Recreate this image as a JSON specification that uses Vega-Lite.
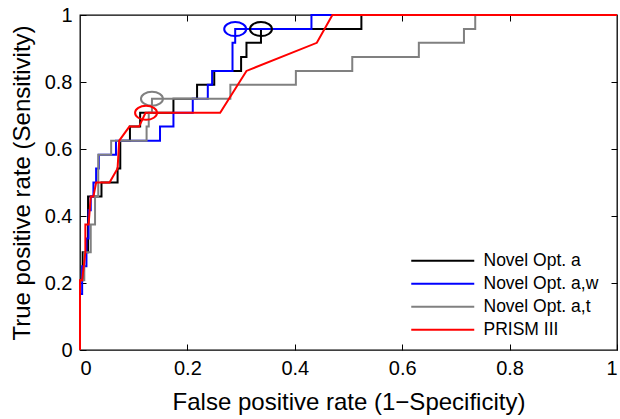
{
  "$schema": "https://vega.github.io/schema/vega-lite/v6.json",
  "width": 537,
  "height": 335,
  "autosize": {"type": "none"},
  "padding": {"left": 80, "top": 15, "right": 3, "bottom": 69},
  "background": "white",
  "config": {
    "font": "Liberation Sans",
    "view": {"stroke": "black", "strokeWidth": 1.3},
    "axis": {
      "domain": false,
      "grid": false,
      "tickColor": "black",
      "tickWidth": 1,
      "tickSize": -6,
      "labelColor": "black",
      "labelFontSize": 20,
      "labelFont": "Liberation Sans",
      "titleFont": "Liberation Sans",
      "titleFontSize": 24,
      "titleFontWeight": "normal",
      "titleColor": "black"
    }
  },
  "datasets": {
    "roc": [
      {"model": "Novel Opt. a", "i": 0, "fpr": 0, "tpr": 0},
      {"model": "Novel Opt. a", "i": 1, "fpr": 0, "tpr": 0.208},
      {"model": "Novel Opt. a", "i": 2, "fpr": 0.005, "tpr": 0.208},
      {"model": "Novel Opt. a", "i": 3, "fpr": 0.005, "tpr": 0.292},
      {"model": "Novel Opt. a", "i": 4, "fpr": 0.015, "tpr": 0.292},
      {"model": "Novel Opt. a", "i": 5, "fpr": 0.015, "tpr": 0.458},
      {"model": "Novel Opt. a", "i": 6, "fpr": 0.04, "tpr": 0.458},
      {"model": "Novel Opt. a", "i": 7, "fpr": 0.04, "tpr": 0.5},
      {"model": "Novel Opt. a", "i": 8, "fpr": 0.07, "tpr": 0.5},
      {"model": "Novel Opt. a", "i": 9, "fpr": 0.07, "tpr": 0.542},
      {"model": "Novel Opt. a", "i": 10, "fpr": 0.075, "tpr": 0.542},
      {"model": "Novel Opt. a", "i": 11, "fpr": 0.075, "tpr": 0.625},
      {"model": "Novel Opt. a", "i": 12, "fpr": 0.093, "tpr": 0.625},
      {"model": "Novel Opt. a", "i": 13, "fpr": 0.093, "tpr": 0.667},
      {"model": "Novel Opt. a", "i": 14, "fpr": 0.112, "tpr": 0.667},
      {"model": "Novel Opt. a", "i": 15, "fpr": 0.112, "tpr": 0.708},
      {"model": "Novel Opt. a", "i": 16, "fpr": 0.174, "tpr": 0.708},
      {"model": "Novel Opt. a", "i": 17, "fpr": 0.174, "tpr": 0.75},
      {"model": "Novel Opt. a", "i": 18, "fpr": 0.218, "tpr": 0.75},
      {"model": "Novel Opt. a", "i": 19, "fpr": 0.218, "tpr": 0.792},
      {"model": "Novel Opt. a", "i": 20, "fpr": 0.25, "tpr": 0.792},
      {"model": "Novel Opt. a", "i": 21, "fpr": 0.25, "tpr": 0.833},
      {"model": "Novel Opt. a", "i": 22, "fpr": 0.3, "tpr": 0.833},
      {"model": "Novel Opt. a", "i": 23, "fpr": 0.3, "tpr": 0.875},
      {"model": "Novel Opt. a", "i": 24, "fpr": 0.31, "tpr": 0.875},
      {"model": "Novel Opt. a", "i": 25, "fpr": 0.31, "tpr": 0.917},
      {"model": "Novel Opt. a", "i": 26, "fpr": 0.337, "tpr": 0.917},
      {"model": "Novel Opt. a", "i": 27, "fpr": 0.337, "tpr": 0.958},
      {"model": "Novel Opt. a", "i": 28, "fpr": 0.524, "tpr": 0.958},
      {"model": "Novel Opt. a", "i": 29, "fpr": 0.524, "tpr": 1},
      {"model": "Novel Opt. a", "i": 30, "fpr": 1, "tpr": 1},

      {"model": "Novel Opt. a,w", "i": 0, "fpr": 0, "tpr": 0},
      {"model": "Novel Opt. a,w", "i": 1, "fpr": 0, "tpr": 0.167},
      {"model": "Novel Opt. a,w", "i": 2, "fpr": 0.004, "tpr": 0.167},
      {"model": "Novel Opt. a,w", "i": 3, "fpr": 0.004, "tpr": 0.25},
      {"model": "Novel Opt. a,w", "i": 4, "fpr": 0.012, "tpr": 0.25},
      {"model": "Novel Opt. a,w", "i": 5, "fpr": 0.012, "tpr": 0.333},
      {"model": "Novel Opt. a,w", "i": 6, "fpr": 0.016, "tpr": 0.333},
      {"model": "Novel Opt. a,w", "i": 7, "fpr": 0.016, "tpr": 0.417},
      {"model": "Novel Opt. a,w", "i": 8, "fpr": 0.02, "tpr": 0.417},
      {"model": "Novel Opt. a,w", "i": 9, "fpr": 0.02, "tpr": 0.458},
      {"model": "Novel Opt. a,w", "i": 10, "fpr": 0.025, "tpr": 0.458},
      {"model": "Novel Opt. a,w", "i": 11, "fpr": 0.025, "tpr": 0.5},
      {"model": "Novel Opt. a,w", "i": 12, "fpr": 0.03, "tpr": 0.5},
      {"model": "Novel Opt. a,w", "i": 13, "fpr": 0.03, "tpr": 0.542},
      {"model": "Novel Opt. a,w", "i": 14, "fpr": 0.035, "tpr": 0.542},
      {"model": "Novel Opt. a,w", "i": 15, "fpr": 0.035, "tpr": 0.583},
      {"model": "Novel Opt. a,w", "i": 16, "fpr": 0.067, "tpr": 0.583},
      {"model": "Novel Opt. a,w", "i": 17, "fpr": 0.067, "tpr": 0.625},
      {"model": "Novel Opt. a,w", "i": 18, "fpr": 0.149, "tpr": 0.625},
      {"model": "Novel Opt. a,w", "i": 19, "fpr": 0.149, "tpr": 0.667},
      {"model": "Novel Opt. a,w", "i": 20, "fpr": 0.174, "tpr": 0.667},
      {"model": "Novel Opt. a,w", "i": 21, "fpr": 0.174, "tpr": 0.708},
      {"model": "Novel Opt. a,w", "i": 22, "fpr": 0.21, "tpr": 0.708},
      {"model": "Novel Opt. a,w", "i": 23, "fpr": 0.21, "tpr": 0.75},
      {"model": "Novel Opt. a,w", "i": 24, "fpr": 0.238, "tpr": 0.75},
      {"model": "Novel Opt. a,w", "i": 25, "fpr": 0.238, "tpr": 0.792},
      {"model": "Novel Opt. a,w", "i": 26, "fpr": 0.246, "tpr": 0.792},
      {"model": "Novel Opt. a,w", "i": 27, "fpr": 0.246, "tpr": 0.833},
      {"model": "Novel Opt. a,w", "i": 28, "fpr": 0.284, "tpr": 0.833},
      {"model": "Novel Opt. a,w", "i": 29, "fpr": 0.284, "tpr": 0.917},
      {"model": "Novel Opt. a,w", "i": 30, "fpr": 0.289, "tpr": 0.917},
      {"model": "Novel Opt. a,w", "i": 31, "fpr": 0.289, "tpr": 0.958},
      {"model": "Novel Opt. a,w", "i": 32, "fpr": 0.431, "tpr": 0.958},
      {"model": "Novel Opt. a,w", "i": 33, "fpr": 0.431, "tpr": 1},
      {"model": "Novel Opt. a,w", "i": 34, "fpr": 1, "tpr": 1},

      {"model": "Novel Opt. a,t", "i": 0, "fpr": 0, "tpr": 0},
      {"model": "Novel Opt. a,t", "i": 1, "fpr": 0, "tpr": 0.208},
      {"model": "Novel Opt. a,t", "i": 2, "fpr": 0.008, "tpr": 0.208},
      {"model": "Novel Opt. a,t", "i": 3, "fpr": 0.008, "tpr": 0.292},
      {"model": "Novel Opt. a,t", "i": 4, "fpr": 0.02, "tpr": 0.292},
      {"model": "Novel Opt. a,t", "i": 5, "fpr": 0.02, "tpr": 0.375},
      {"model": "Novel Opt. a,t", "i": 6, "fpr": 0.028, "tpr": 0.375},
      {"model": "Novel Opt. a,t", "i": 7, "fpr": 0.028, "tpr": 0.458},
      {"model": "Novel Opt. a,t", "i": 8, "fpr": 0.034, "tpr": 0.458},
      {"model": "Novel Opt. a,t", "i": 9, "fpr": 0.034, "tpr": 0.583},
      {"model": "Novel Opt. a,t", "i": 10, "fpr": 0.058, "tpr": 0.583},
      {"model": "Novel Opt. a,t", "i": 11, "fpr": 0.058, "tpr": 0.625},
      {"model": "Novel Opt. a,t", "i": 12, "fpr": 0.124, "tpr": 0.625},
      {"model": "Novel Opt. a,t", "i": 13, "fpr": 0.124, "tpr": 0.667},
      {"model": "Novel Opt. a,t", "i": 14, "fpr": 0.128, "tpr": 0.667},
      {"model": "Novel Opt. a,t", "i": 15, "fpr": 0.128, "tpr": 0.708},
      {"model": "Novel Opt. a,t", "i": 16, "fpr": 0.134, "tpr": 0.708},
      {"model": "Novel Opt. a,t", "i": 17, "fpr": 0.134, "tpr": 0.75},
      {"model": "Novel Opt. a,t", "i": 18, "fpr": 0.28, "tpr": 0.75},
      {"model": "Novel Opt. a,t", "i": 19, "fpr": 0.28, "tpr": 0.792},
      {"model": "Novel Opt. a,t", "i": 20, "fpr": 0.402, "tpr": 0.792},
      {"model": "Novel Opt. a,t", "i": 21, "fpr": 0.402, "tpr": 0.833},
      {"model": "Novel Opt. a,t", "i": 22, "fpr": 0.507, "tpr": 0.833},
      {"model": "Novel Opt. a,t", "i": 23, "fpr": 0.507, "tpr": 0.875},
      {"model": "Novel Opt. a,t", "i": 24, "fpr": 0.631, "tpr": 0.875},
      {"model": "Novel Opt. a,t", "i": 25, "fpr": 0.631, "tpr": 0.917},
      {"model": "Novel Opt. a,t", "i": 26, "fpr": 0.715, "tpr": 0.917},
      {"model": "Novel Opt. a,t", "i": 27, "fpr": 0.715, "tpr": 0.958},
      {"model": "Novel Opt. a,t", "i": 28, "fpr": 0.736, "tpr": 0.958},
      {"model": "Novel Opt. a,t", "i": 29, "fpr": 0.736, "tpr": 1},
      {"model": "Novel Opt. a,t", "i": 30, "fpr": 1, "tpr": 1},

      {"model": "PRISM III", "i": 0, "fpr": 0, "tpr": 0},
      {"model": "PRISM III", "i": 1, "fpr": 0, "tpr": 0.208},
      {"model": "PRISM III", "i": 2, "fpr": 0.004, "tpr": 0.208},
      {"model": "PRISM III", "i": 3, "fpr": 0.01, "tpr": 0.292},
      {"model": "PRISM III", "i": 4, "fpr": 0.01, "tpr": 0.375},
      {"model": "PRISM III", "i": 5, "fpr": 0.016, "tpr": 0.375},
      {"model": "PRISM III", "i": 6, "fpr": 0.02, "tpr": 0.458},
      {"model": "PRISM III", "i": 7, "fpr": 0.025, "tpr": 0.458},
      {"model": "PRISM III", "i": 8, "fpr": 0.03, "tpr": 0.5},
      {"model": "PRISM III", "i": 9, "fpr": 0.055, "tpr": 0.5},
      {"model": "PRISM III", "i": 10, "fpr": 0.07, "tpr": 0.542},
      {"model": "PRISM III", "i": 11, "fpr": 0.073, "tpr": 0.625},
      {"model": "PRISM III", "i": 12, "fpr": 0.092, "tpr": 0.667},
      {"model": "PRISM III", "i": 13, "fpr": 0.11, "tpr": 0.667},
      {"model": "PRISM III", "i": 14, "fpr": 0.122, "tpr": 0.708},
      {"model": "PRISM III", "i": 15, "fpr": 0.261, "tpr": 0.708},
      {"model": "PRISM III", "i": 16, "fpr": 0.31, "tpr": 0.833},
      {"model": "PRISM III", "i": 17, "fpr": 0.441, "tpr": 0.917},
      {"model": "PRISM III", "i": 18, "fpr": 0.47, "tpr": 1},
      {"model": "PRISM III", "i": 19, "fpr": 1, "tpr": 1}
    ],
    "ops": [
      {"model": "Novel Opt. a", "fpr": 0.337, "tpr": 0.958},
      {"model": "Novel Opt. a,w", "fpr": 0.289, "tpr": 0.958},
      {"model": "Novel Opt. a,t", "fpr": 0.134, "tpr": 0.75},
      {"model": "PRISM III", "fpr": 0.123, "tpr": 0.708}
    ]
  },
  "layer": [
    {
      "data": {"name": "roc"},
      "mark": {"type": "line", "strokeWidth": 2, "clip": false},
      "encoding": {
        "x": {"field": "fpr", "type": "quantitative", "scale": {"domain": [0, 1], "nice": false, "zero": false},
              "axis": {"orient": "bottom", "title": "False positive rate (1−Specificity)", "values": [0, 0.2, 0.4, 0.6, 0.8, 1], "format": "~g", "labelPadding": 14, "titlePadding": 12}},
        "y": {"field": "tpr", "type": "quantitative", "scale": {"domain": [0, 1], "nice": false, "zero": false},
              "axis": {"orient": "left", "title": "True positive rate (Sensitivity)", "values": [0, 0.2, 0.4, 0.6, 0.8, 1], "format": "~g", "labelPadding": 14, "titlePadding": 10}},
        "color": {"field": "model", "type": "nominal",
                  "scale": {"domain": ["Novel Opt. a", "Novel Opt. a,w", "Novel Opt. a,t", "PRISM III"], "range": ["#000000", "#0000ff", "#808080", "#ff0000"]},
                  "legend": {"title": null, "orient": "none", "legendX": 354, "legendY": 237,
                             "symbolType": "M-5.25,0H5.25", "symbolSize": 144, "symbolStrokeWidth": 2,
                             "labelOffset": 32, "labelFontSize": 17.5, "labelColor": "black", "labelFont": "Liberation Sans",
                             "rowPadding": 4, "padding": 0}},
        "order": {"field": "i", "type": "quantitative"}
      }
    },
    {
      "data": {"name": "ops"},
      "mark": {"type": "point", "shape": "M-1.57,0A1.57,1,0,1,0,1.57,0A1.57,1,0,1,0,-1.57,0", "size": 196, "strokeWidth": 2, "filled": false, "opacity": 1},
      "encoding": {
        "x": {"field": "fpr", "type": "quantitative", "axis": {"orient": "top", "labels": false, "title": null, "values": [0.2, 0.4, 0.6, 0.8]}},
        "y": {"field": "tpr", "type": "quantitative", "axis": {"orient": "right", "labels": false, "title": null, "values": [0.2, 0.4, 0.6, 0.8]}},
        "color": {"field": "model", "type": "nominal"}
      }
    }
  ],
  "resolve": {"axis": {"x": "independent", "y": "independent"}}
}
